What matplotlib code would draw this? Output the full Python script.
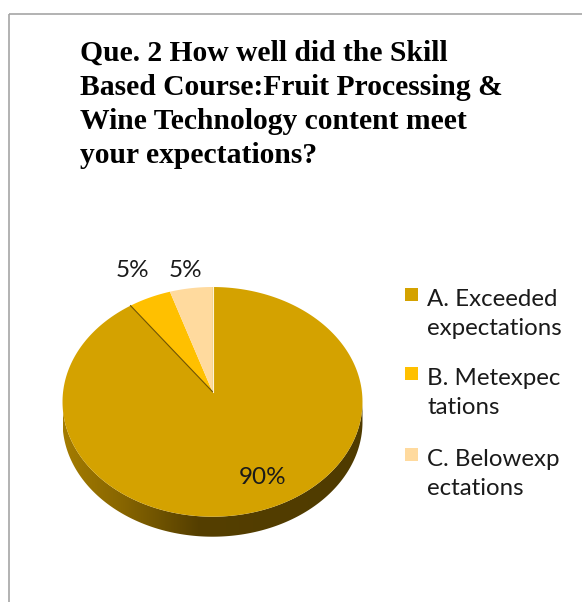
import numpy as np
import matplotlib
matplotlib.use("Agg")
import matplotlib.pyplot as plt
from matplotlib.patches import Polygon, Rectangle
from matplotlib.colors import LinearSegmentedColormap

# data
categories = ["A. Exceeded\nexpectations", "B. Metexpec\ntations", "C. Belowexp\nectations"]
values = [90, 5, 5]
colors = ["#D4A200", "#FFC000", "#FFDA9E"]
title = ("Que. 2 How well did the Skill\nBased Course:Fruit Processing &\n"
         "Wine Technology content meet\nyour expectations?")

W, H = 582, 602
fig = plt.figure(figsize=(W / 100, H / 100), dpi=100)
ax = fig.add_axes([0, 0, 1, 1])
ax.set_xlim(0, W)
ax.set_ylim(H, 0)
ax.axis("off")

# chart frame (runs off the right / bottom edge)
ax.add_patch(Rectangle((8.5, 13.5), 700, 700, fill=False, edgecolor="#a6a6a6", lw=1.2))

ax.text(80, 40, title, family="Liberation Serif", weight="bold", fontsize=21.3,
        va="top", ha="left", linespacing=1.34)

# pie geometry (pixels): circle seen in slight perspective
cx, cy = 212.5, 391.7      # projected centre of the pie
A, B, e = 149.4, 113.95, 0.0884
depth = 20


def proj(t_deg, f=1.0, dy=0.0):
    t = np.radians(np.asarray(t_deg, dtype=float))
    u, v = f * np.cos(t), f * np.sin(t)
    d = 1 + e * v
    return np.column_stack([cx + A * u / d, cy - B * v / d + dy])


def arc(t1, t2, dy=0.0, n=240):
    return proj(np.linspace(t1, t2, n), dy=dy)


# side wall: front half between the silhouette points
tl = 180 + np.degrees(np.arcsin(e))
tr = 360 - np.degrees(np.arcsin(e))
side_pts = np.vstack([arc(tl, tr), arc(tr, tl, depth)])
side = Polygon(side_pts, closed=True, facecolor="none", edgecolor="none")
ax.add_patch(side)
side_cmap = LinearSegmentedColormap.from_list(
    "side", [(0, "#a47c00"), (0.2, "#876500"), (0.45, "#553f00"), (1, "#4f3b00")])
grad = np.linspace(0, 1, 256)[None, :]
xmin, xmax = side_pts[:, 0].min(), side_pts[:, 0].max()
im = ax.imshow(grad, cmap=side_cmap, extent=[xmin, xmax, side_pts[:, 1].max(), cy],
               aspect="auto", zorder=1)
im.set_clip_path(side)

# top faces, clockwise from 12 o'clock
total = sum(values)
start = 90.0
mids = []
for v, c in zip(values, colors):
    sweep = 360.0 * v / total
    end = start - sweep
    pts = np.vstack([[cx, cy], arc(start, end)])
    ax.add_patch(Polygon(pts, closed=True, facecolor=c, edgecolor="none", zorder=2))
    mids.append((start + end) / 2)
    start = end

# thin seam lines along the small slices
for ang, ec in [(90 - 360.0 * values[0] / total, "#6e5200"), (90.0, "#fff3d9")]:
    p = proj([ang])[0]
    ax.plot([cx, p[0]], [cy, p[1]], color=ec, lw=0.8, zorder=3)

# data labels
for v, m in zip(values, mids):
    if v > 50:
        x, y = proj([m], f=0.745)[0]
        x += 13
    else:
        x = proj([m], f=1.3)[0][0]
        y = proj([90])[0][1] - 17
    ax.text(x, y, f"{v}%", family="Lato", fontsize=17.5, ha="center", va="center",
            color="#1a1a1a", zorder=4)

# legend
ly = [295, 374, 455]
for lab, c, y in zip(categories, colors, ly):
    ax.add_patch(Rectangle((405, y - 7), 13, 13, facecolor=c, edgecolor="none"))
    ax.text(427, y - 6, lab, family="Lato", fontsize=17.3, ha="left", va="top",
            color="#1a1a1a", linespacing=1.45)

fig.savefig("out.png", dpi=100)
